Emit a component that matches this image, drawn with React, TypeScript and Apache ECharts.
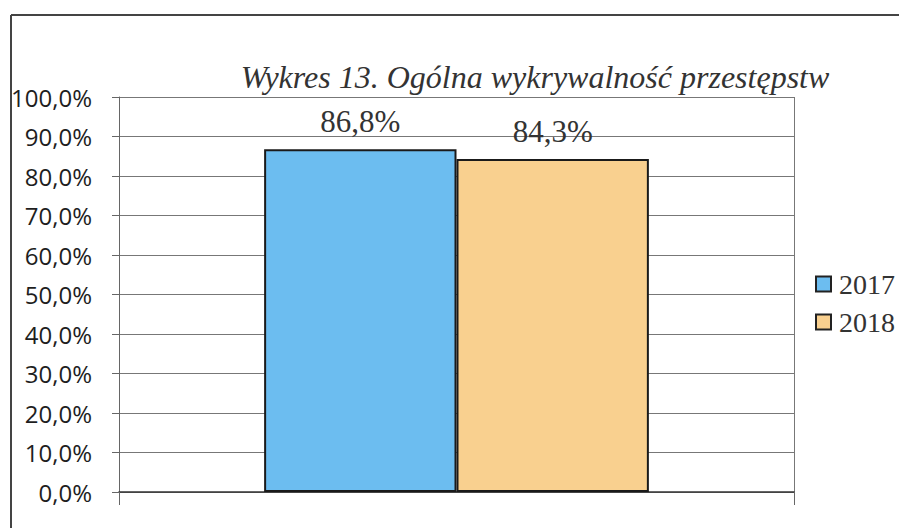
import React, { useEffect, useRef } from "react";
import * as echarts from "echarts";

const categories = [""];
const seriesNames = ["2017", "2018"];
const values2017 = [86.8];
const values2018 = [84.3];
const colors = ["#6cbdf0", "#f9d08f"];

const fmt = (v: number) => v.toFixed(1).replace(".", ",") + "%";

export default function App() {
  const ref = useRef<HTMLDivElement>(null);
  useEffect(() => {
    if (!ref.current) return;
    const chart = echarts.init(ref.current, null, { renderer: "svg" });
    const serif = "Liberation Serif";
    const mkSeries = (name: string, data: number[], color: string) => ({
      name,
      type: "bar",
      data,
      barGap: "0%",
      barCategoryGap: "43%",
      itemStyle: { color, borderColor: "#1a1a1a", borderWidth: 2 },
      label: {
        show: true,
        position: "top",
        distance: 12,
        formatter: (p: any) => fmt(p.value),
        fontFamily: serif,
        fontSize: 31,
        color: "#333",
      },
    });
    chart.setOption({
      animation: false,
      backgroundColor: "#fff",
      title: {
        text: "Wykres 13. Ogólna wykrywalność przestępstw",
        left: 530,
        top: 56,
        textAlign: "center",
        textStyle: {
          fontFamily: serif,
          fontStyle: "italic",
          fontWeight: "normal",
          fontSize: 32,
          color: "#333",
        },
      },
      legend: {
        orient: "vertical",
        left: 815,
        top: 270,
        padding: 0,
        itemWidth: 15,
        itemHeight: 15,
        itemGap: 10,
        icon: "rect",
        data: seriesNames,
        itemStyle: { borderColor: "#222", borderWidth: 2 },
        textStyle: {
          fontFamily: serif,
          fontSize: 28,
          lineHeight: 28,
          color: "#333",
          padding: [0, 0, 0, 3],
        },
      },
      grid: { left: 119, right: 105, top: 97, bottom: 36 },
      xAxis: {
        type: "category",
        data: categories,
        axisLine: { show: true, lineStyle: { color: "#333", width: 1.5 } },
        axisTick: { show: true, length: 13, lineStyle: { color: "#666" } },
        axisLabel: { show: false },
        splitLine: { show: true, lineStyle: { color: "#777", width: 1 } },
      },
      yAxis: {
        type: "value",
        min: 0,
        max: 100,
        interval: 10,
        axisLine: { show: true, lineStyle: { color: "#666", width: 1 } },
        axisTick: { show: true, length: 7, lineStyle: { color: "#666" } },
        axisLabel: {
          formatter: (v: number) => fmt(v),
          fontFamily: "Open Sans",
          fontSize: 24,
          color: "#1e1e1e",
          margin: 27,
        },
        splitLine: { show: true, lineStyle: { color: "#777", width: 1 } },
      },
      graphic: [
        { type: "line", shape: { x1: 11, y1: 15, x2: 11, y2: 528 }, style: { stroke: "#444", lineWidth: 2 } },
        { type: "line", shape: { x1: 11, y1: 15, x2: 899, y2: 15 }, style: { stroke: "#444", lineWidth: 2 } },
      ],
      series: [
        mkSeries(seriesNames[0], values2017, colors[0]),
        mkSeries(seriesNames[1], values2018, colors[1]),
      ],
    });
    return () => chart.dispose();
  }, []);
  return (
    <div
      ref={ref}
      style={{ position: "fixed", left: 0, top: 0, width: 899, height: 528 }}
    />
  );
}
